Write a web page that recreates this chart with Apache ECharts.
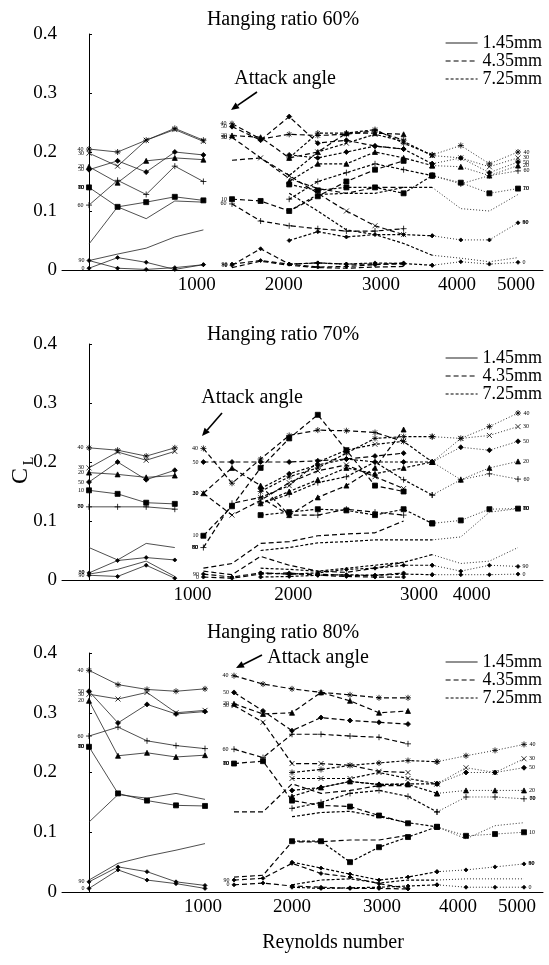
<!DOCTYPE html>
<html><head><meta charset="utf-8">
<script src="https://cdn.jsdelivr.net/npm/echarts@6/dist/echarts.min.js"></script>
<style>html,body{margin:0;padding:0;background:#fff}#c{width:549px;height:965px}</style>
</head><body><div id="c"></div><script>
// ---------- tick labels (x positions are measurement slots along the composite Reynolds axis) ----------
const tickLabels60 = ['1000','2000','3000','4000','5000'];
const tickSlots60 = [3.77, 6.81, 10.21, 12.87, 14.93];
const tickLabels70 = ['1000','2000','3000','4000'];
const tickSlots70 = [3.62, 7.14, 11.54, 13.38];
const tickLabels80 = ['1000','2000','3000','4000','5000'];
const tickSlots80 = [3.93, 7.0, 10.1, 12.72, 14.76];
const yTicks = [0, 0.1, 0.2, 0.3, 0.4];

// ---------- measurement slots per wire diameter ----------
const r60_x145 = [0,1,2,3,4];
const r60_x435 = [5,6,7,8,9,10,11];
const r60_x725 = [7,8,9,10,11,12,13,14,15];
const r70_x145 = [0,1,2,3];
const r70_x435 = [4,5,6,7,8,9,10,11];
const r70_x725 = [6,7,8,9,10,11,12,13,14,15];
const r80_x145 = [0,1,2,3,4];
const r80_x435 = [5,6,7,8,9,10,11];
const r80_x725 = [7,8,9,10,11,12,13,14,15];

// ---------- hanging ratio 60% ----------
const r60_a145 = ['40','30','20','50','60','10','70','80','90','0'];
const r60_d145 = [
  [0.205,0.200,0.220,0.240,0.220],
  [0.198,0.176,0.220,0.238,0.218],
  [0.175,0.148,0.185,0.190,0.187],
  [0.170,0.185,0.166,0.200,0.195],
  [0.110,0.152,0.128,0.176,0.150],
  [0.140,0.107,0.115,0.124,0.118],
  [0.044,0.107,0.087,0.117,0.115],
  [0.016,0.027,0.037,0.056,0.068],
  [0.016,0.003,0.001,0.004,0.009],
  [0.003,0.021,0.013,0.001,0.009]
];
const r60_a435 = ['40','50','20','30','70','10','60','90','0','80'];
const r60_d435 = [
  [0.248,0.222,0.230,0.228,0.230,0.236,0.220],
  [0.243,0.220,0.260,0.215,0.220,0.210,0.205],
  [0.228,0.225,0.190,0.200,0.232,0.232,0.230],
  [0.225,0.190,0.160,0.130,0.100,0.075,0.060],
  [0.186,0.190,0.155,0.138,0.130,0.140,0.140],
  [0.120,0.117,0.100,0.125,0.150,0.170,0.185],
  [0.112,0.083,0.075,0.070,0.066,0.066,0.070],
  [0.010,0.016,0.010,0.012,0.010,0.010,0.010],
  [0.008,0.036,0.010,0.005,0.006,0.009,0.012],
  [0.004,0.015,0.008,0.004,0.003,0.005,0.006]
];
const r60_a725 = ['40','30','50','20','60','10','70','90','80','0'];
const r60_d725 = [
  [0.190,0.232,0.232,0.238,0.215,0.195,0.211,0.180,0.200],
  [0.160,0.200,0.215,0.230,0.218,0.194,0.190,0.175,0.190],
  [0.195,0.190,0.200,0.210,0.205,0.180,0.190,0.165,0.183],
  [0.150,0.180,0.180,0.200,0.190,0.177,0.175,0.160,0.177],
  [0.120,0.150,0.165,0.180,0.170,0.160,0.146,0.160,0.168],
  [0.145,0.135,0.140,0.140,0.130,0.160,0.148,0.130,0.138],
  [0.100,0.128,0.130,0.130,0.140,0.140,0.104,0.100,0.128],
  [0.050,0.065,0.056,0.060,0.060,0.058,0.051,0.051,0.080],
  [0.130,0.100,0.068,0.060,0.045,0.025,0.020,0.014,0.021],
  [0.010,0.012,0.010,0.012,0.011,0.008,0.014,0.010,0.013]
];

// ---------- hanging ratio 70% ----------
const r70_a145 = ['40','30','20','50','10','60','70','0','80','90'];
const r70_d145 = [
  [0.224,0.220,0.210,0.224],
  [0.190,0.217,0.203,0.218],
  [0.182,0.179,0.174,0.177],
  [0.166,0.200,0.170,0.186],
  [0.152,0.146,0.131,0.129],
  [0.124,0.124,0.124,0.120],
  [0.055,0.034,0.062,0.055],
  [0.012,0.033,0.038,0.034],
  [0.010,0.018,0.032,0.006],
  [0.008,0.006,0.025,0.003]
];
const r70_a435 = ['40','50','20','30','10','60','70','80','90','0'];
const r70_d435 = [
  [0.223,0.164,0.205,0.245,0.254,0.253,0.250,0.235],
  [0.200,0.200,0.200,0.200,0.202,0.205,0.210,0.215],
  [0.147,0.190,0.160,0.110,0.140,0.160,0.190,0.255],
  [0.147,0.110,0.135,0.165,0.185,0.195,0.175,0.155],
  [0.075,0.125,0.190,0.240,0.280,0.220,0.160,0.150],
  [0.055,0.130,0.140,0.110,0.110,0.120,0.115,0.110],
  [0.020,0.028,0.062,0.065,0.075,0.078,0.080,0.100],
  [0.015,0.009,0.040,0.025,0.015,0.013,0.020,0.030],
  [0.010,0.005,0.012,0.010,0.010,0.008,0.008,0.012],
  [0.005,0.003,0.010,0.012,0.008,0.006,0.005,0.005]
];
const r70_a725 = ['40','30','50','20','60','10','70','80','90','0'];
const r70_d725 = [
  [0.150,0.175,0.190,0.215,0.240,0.243,0.243,0.240,0.260,0.283],
  [0.140,0.160,0.200,0.220,0.230,0.235,0.200,0.240,0.245,0.260],
  [0.155,0.180,0.195,0.205,0.200,0.200,0.200,0.225,0.220,0.235],
  [0.130,0.150,0.170,0.190,0.180,0.190,0.200,0.170,0.190,0.201],
  [0.130,0.145,0.165,0.175,0.200,0.170,0.144,0.170,0.180,0.171],
  [0.110,0.115,0.120,0.118,0.110,0.120,0.096,0.101,0.120,0.121],
  [0.050,0.055,0.063,0.065,0.068,0.068,0.068,0.073,0.115,0.121],
  [0.020,0.018,0.015,0.020,0.025,0.030,0.043,0.028,0.032,0.055],
  [0.012,0.010,0.012,0.018,0.020,0.025,0.025,0.015,0.025,0.023],
  [0.005,0.006,0.008,0.009,0.008,0.010,0.009,0.009,0.009,0.010]
];

// ---------- hanging ratio 80% ----------
const r80_a145 = ['40','30','50','20','60','10','70','80','90','0'];
const r80_d145 = [
  [0.371,0.347,0.339,0.336,0.340],
  [0.331,0.323,0.334,0.300,0.304],
  [0.336,0.283,0.314,0.298,0.302],
  [0.320,0.228,0.233,0.226,0.229],
  [0.261,0.276,0.253,0.245,0.240],
  [0.243,0.165,0.153,0.145,0.144],
  [0.117,0.163,0.157,0.165,0.155],
  [0.020,0.048,0.060,0.070,0.081],
  [0.017,0.042,0.034,0.017,0.011],
  [0.006,0.037,0.020,0.014,0.006]
];
const r80_a435 = ['40','50','20','30','60','10','70','80','90','0'];
const r80_d435 = [
  [0.362,0.348,0.340,0.334,0.330,0.325,0.325],
  [0.334,0.303,0.270,0.292,0.287,0.284,0.281],
  [0.315,0.298,0.300,0.334,0.320,0.300,0.303],
  [0.312,0.284,0.215,0.215,0.212,0.202,0.200],
  [0.239,0.225,0.264,0.264,0.261,0.259,0.248],
  [0.215,0.219,0.153,0.145,0.143,0.128,0.115],
  [0.134,0.134,0.181,0.165,0.170,0.178,0.178],
  [0.025,0.028,0.084,0.084,0.087,0.087,0.095],
  [0.020,0.023,0.048,0.031,0.025,0.014,0.006],
  [0.012,0.015,0.010,0.008,0.006,0.006,0.005]
];
const r80_a725 = ['40','30','50','20','60','70','10','90','80','0'];
const r80_d725 = [
  [0.200,0.205,0.212,0.216,0.220,0.218,0.228,0.237,0.247],
  [0.190,0.190,0.190,0.200,0.190,0.181,0.208,0.200,0.223],
  [0.170,0.175,0.185,0.180,0.181,0.181,0.200,0.200,0.208],
  [0.160,0.175,0.185,0.180,0.180,0.165,0.170,0.170,0.170],
  [0.140,0.150,0.165,0.170,0.160,0.134,0.159,0.159,0.156],
  [0.126,0.133,0.135,0.126,0.116,0.109,0.089,0.111,0.116],
  [0.085,0.085,0.050,0.075,0.092,0.109,0.094,0.097,0.100],
  [0.050,0.040,0.030,0.020,0.025,0.034,0.037,0.042,0.047],
  [0.012,0.020,0.022,0.015,0.020,0.020,0.022,0.022,0.022],
  [0.008,0.006,0.007,0.008,0.010,0.012,0.008,0.008,0.008]
];

const diameters = ['1.45mm','4.35mm','7.25mm'];
const panelTitles = ['Hanging ratio 60%','Hanging ratio 70%','Hanging ratio 80%'];

// ---------- styling ----------
const FONT = '"Liberation Serif", "Times New Roman", serif';
const AST = 'path://M5,0L5,10M0,5L10,5M1.5,1.5L8.5,8.5M8.5,1.5L1.5,8.5';
const XS = 'path://M0,0L10,10M10,0L0,10';
const PLUS = 'path://M5,0L5,10M0,5L10,5';
const DASH = 'path://M0,5L10,5';
const SYM = {'0':['diamond',4],'10':['rect',5],'20':['triangle',5],'30':[XS,5],'40':[AST,6],
  '50':['diamond',5],'60':[PLUS,6],'70':[DASH,5],'80':[DASH,5],'90':['diamond',4]};
const STY = {
  s145: {type:'solid', width:0.8, color:'#222'},
  s435: {type:[5,3], width:1.2, color:'#000'},
  s725: {type:[3,2], width:1.2, color:'#000'},
  sdot: {type:[1,2], width:1, color:'#333'}
};
const grids = [
  {left:62, top:34, width:481, height:236},
  {left:62, top:344, width:481, height:236},
  {left:62, top:653, width:481, height:239}
];
const xRange = [[-0.944, 15.874],[-0.944, 15.874],[-0.931, 15.655]];
const ticks = [[tickSlots60,tickLabels60],[tickSlots70,tickLabels70],[tickSlots80,tickLabels80]];

const series = [];
function lineSeries(g, pts, angle, lineStyle, labelIdx, labelPos) {
  const [sym, size] = SYM[angle];
  return {
    type:'line', xAxisIndex:g, yAxisIndex:g, symbol:sym, symbolSize:size, silent:true,
    lineStyle: lineStyle,
    itemStyle: {color:'#000', borderColor:'#000', borderWidth:0.8},
    emphasis: {disabled:true},
    data: pts.map((p,i) => i === labelIdx ? {value:p, label:{show:true, formatter:angle,
      position:labelPos, distance:2, fontSize:6, fontFamily:FONT, color:'#000'}} : p)
  };
}
function addGroup(g, xs, rows, angles, kind) {
  rows.forEach((row, j) => {
    const pts = xs.map((x,i) => [x, row[i]]);
    if (kind === '145') series.push(lineSeries(g, pts, angles[j], STY.s145, 0, 'left'));
    else if (kind === '435') series.push(lineSeries(g, pts, angles[j], STY.s435, 0, 'left'));
    else {
      const a = pts.filter(p => p[0] <= 12), b = pts.filter(p => p[0] >= 12);
      series.push(lineSeries(g, a, angles[j], STY.s725, -1, 'right'));
      series.push(lineSeries(g, b, angles[j], STY.sdot, b.length-1, 'right'));
    }
  });
}
addGroup(0, r60_x145, r60_d145, r60_a145, '145');
addGroup(0, r60_x435, r60_d435, r60_a435, '435');
addGroup(0, r60_x725, r60_d725, r60_a725, '725');
addGroup(1, r70_x145, r70_d145, r70_a145, '145');
addGroup(1, r70_x435, r70_d435, r70_a435, '435');
addGroup(1, r70_x725, r70_d725, r70_a725, '725');
addGroup(2, r80_x145, r80_d145, r80_a145, '145');
addGroup(2, r80_x435, r80_d435, r80_a435, '435');
addGroup(2, r80_x725, r80_d725, r80_a725, '725');
// legend entries
[STY.s145, STY.s435, STY.s725].forEach((ls, i) => series.push({
  type:'line', name:diameters[i], xAxisIndex:0, yAxisIndex:0, data:[], symbol:'none',
  color:'#000', itemStyle:{color:'#000'}, lineStyle:ls
}));

const xAxis = grids.map((gr, g) => ({
  type:'value', gridIndex:g, min:xRange[g][0], max:xRange[g][1],
  axisLine:{show:true, onZero:false, lineStyle:{color:'#000', width:1}},
  axisTick:{show:false}, splitLine:{show:false},
  axisLabel:{customValues:ticks[g][0], fontFamily:FONT, fontSize:19, color:'#000', margin:6,
    formatter: v => { const i = ticks[g][0].findIndex(t => Math.abs(t - v) < 1e-6); return i >= 0 ? ticks[g][1][i] : ''; }}
}));
const yAxis = grids.map((gr, g) => ({
  type:'value', gridIndex:g, min:0, max:0.4, interval:0.1,
  axisLine:{show:true, lineStyle:{color:'#000', width:1}},
  axisTick:{show:true, inside:true, length:3, lineStyle:{color:'#000'}},
  splitLine:{show:false},
  axisLabel:{fontFamily:FONT, fontSize:19, color:'#000', margin:5,
    formatter: v => { const i = yTicks.findIndex(t => Math.abs(t - v) < 1e-9); return i >= 0 ? String(yTicks[i]) : ''; }}
}));
const legendTops = [34, 349, 653];
const legend = legendTops.map(t => ({
  data:diameters, orient:'vertical', left:445, top:t, itemWidth:32, itemHeight:10, itemGap:0,
  selectedMode:false, padding:0, lineStyle:{width:1.2}, itemStyle:{opacity:0},
  textStyle:{fontFamily:FONT, fontSize:18, color:'#000', lineHeight:15}
}));
const titleTops = [10, 325, 623];
const title = panelTitles.map((t, i) => ({
  text:t, left:283, top:titleTops[i], textAlign:'center', padding:0,
  textStyle:{fontFamily:FONT, fontSize:20, fontWeight:'normal', color:'#000'}
}));

function arrow(x1, y1, x2, y2) {
  const ang = Math.atan2(y2 - y1, x2 - x1), L = 8, W = 3.5;
  const bx = x2 - L*Math.cos(ang), by = y2 - L*Math.sin(ang);
  const px = -Math.sin(ang)*W, py = Math.cos(ang)*W;
  return [
    {type:'line', shape:{x1:x1, y1:y1, x2:bx, y2:by}, style:{stroke:'#000', lineWidth:1.6}, silent:true},
    {type:'polygon', shape:{points:[[x2,y2],[bx+px,by+py],[bx-px,by-py]]}, style:{fill:'#000'}, silent:true}
  ];
}
const txt = (x, y, s, size, extra) => Object.assign({type:'text', x:x, y:y, silent:true,
  style:{text:s, fontFamily:FONT, fontSize:size, fill:'#000', align:'center', verticalAlign:'middle'}}, extra || {});
const graphic = [
  txt(285, 79, 'Attack angle', 20), ...arrow(257, 92, 231, 110),
  txt(252, 398, 'Attack angle', 20), ...arrow(222, 413, 202, 436),
  txt(318, 658, 'Attack angle', 20), ...arrow(262, 655, 236, 668),
  txt(333, 943, 'Reynolds number', 20),
  txt(21, 476, 'C', 24, {rotation:Math.PI/2}),
  txt(29, 461, 'L', 14, {rotation:Math.PI/2})
];

const chart = echarts.init(document.getElementById('c'), null, {renderer:'canvas'});
chart.setOption({
  animation:false, backgroundColor:'#fff',
  title:title, legend:legend, grid:grids, xAxis:xAxis, yAxis:yAxis, series:series, graphic:graphic
});
</script></body></html>
